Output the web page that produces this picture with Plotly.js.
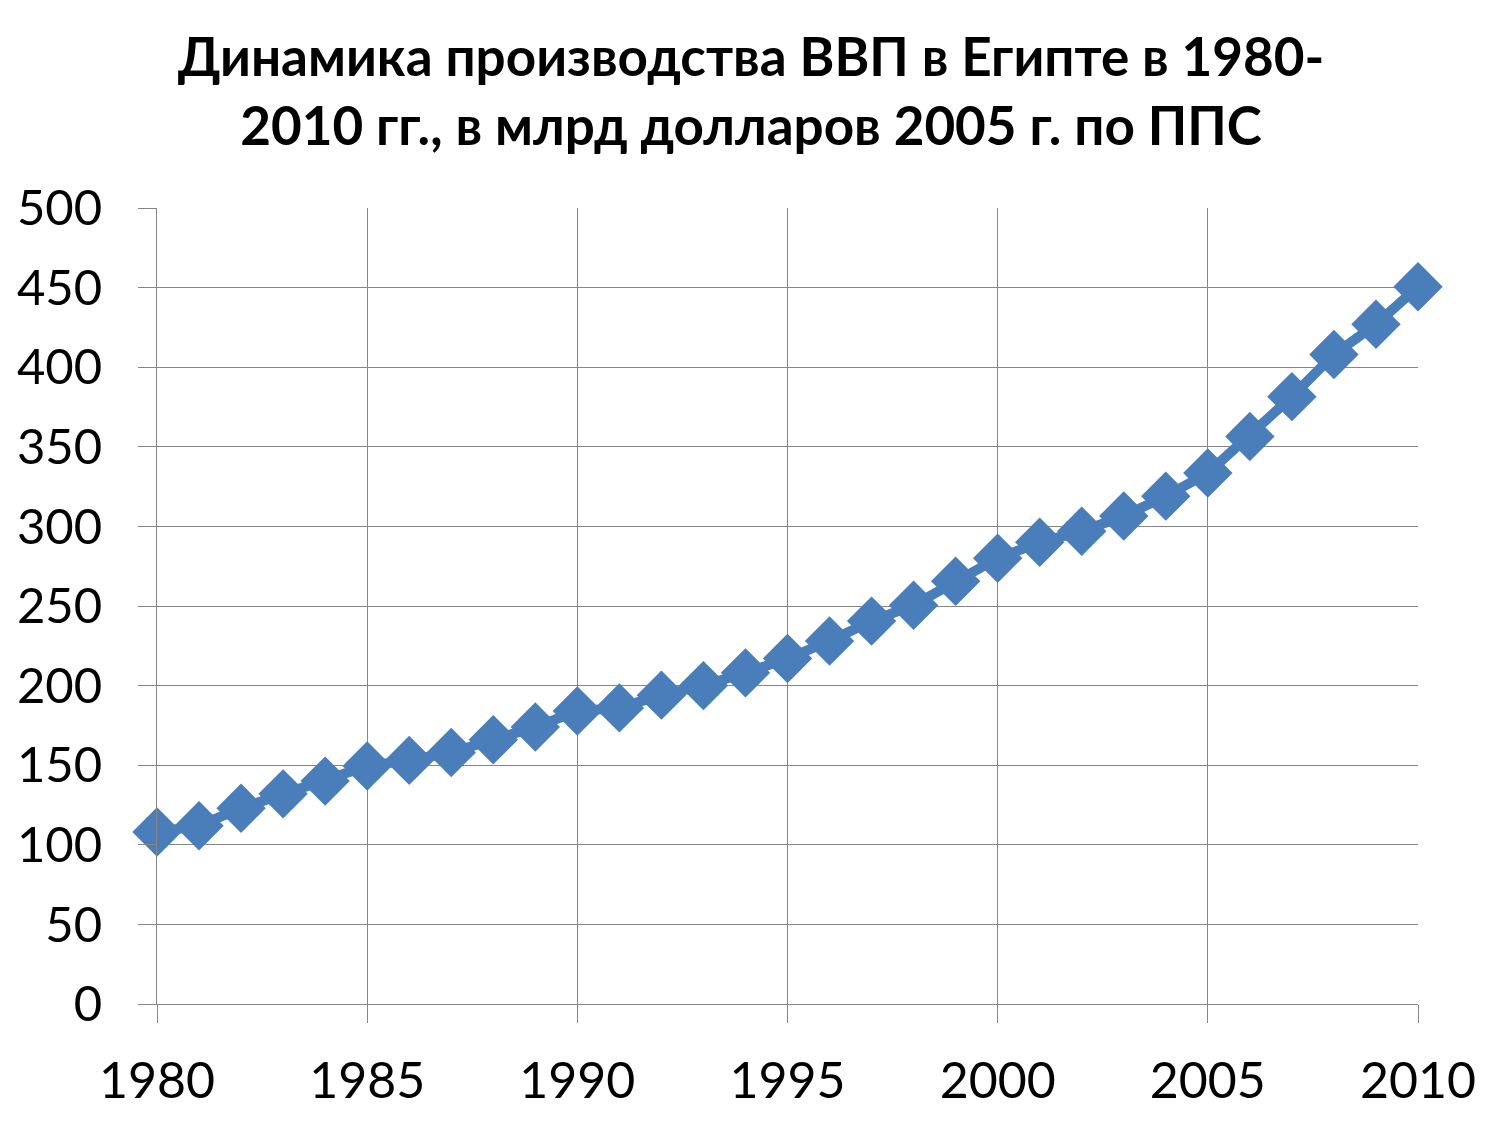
<!DOCTYPE html>
<html>
<head>
<meta charset="utf-8">
<script src="https://cdn.plot.ly/plotly-3.0.1.min.js"></script>
<style>html,body{margin:0;padding:0;background:#fff;}#chart{width:1502px;height:1127px;}</style>
</head>
<body>
<div id="chart"></div>
<script>
const years = [1980,1981,1982,1983,1984,1985,1986,1987,1988,1989,1990,1991,1992,1993,1994,1995,1996,1997,1998,1999,2000,2001,2002,2003,2004,2005,2006,2007,2008,2009,2010];
const gdp = [108,112,123,132,140,149.5,153,158,166,174,184,186,194,200,208,217,228,240.5,250.5,265.5,280,290,297,306.5,319,333.5,356.5,381.5,408,427,450.5];
const titleText = 'Динамика производства ВВП в Египте в 1980-<br>2010 гг., в млрд долларов 2005 г. по ППС';
const xTicks = [1980,1985,1990,1995,2000,2005,2010];
const yTicks = [0,50,100,150,200,250,300,350,400,450,500];

const trace = {
  x: years, y: gdp, type: 'scatter', mode: 'lines+markers',
  line: {color: '#4A7EBB', width: 10},
  marker: {symbol: 'diamond', size: 38, color: '#4A7EBB'},
  cliponaxis: false,
  hoverinfo: 'x+y'
};
const grid = '#868686';
const layout = {
  width: 1502, height: 1127,
  paper_bgcolor: '#ffffff', plot_bgcolor: '#ffffff',
  margin: {l: 157, r: 84, t: 208, b: 123, pad: 0},
  showlegend: false,
  title: {
    text: titleText,
    font: {family: 'Lato, "Open Sans", sans-serif', size: 53, color: '#000000', weight: 'bold'},
    x: 0.5, xanchor: 'center', xref: 'container',
    y: 1 - 76/1127, yanchor: 'middle', yref: 'container'
  },
  xaxis: {
    type: 'linear', range: [1980, 2010],
    tickmode: 'array', tickvals: xTicks, ticktext: xTicks.map(String),
    ticks: 'outside', ticklen: 18, tickwidth: 1, tickcolor: grid,
    showgrid: true, gridcolor: grid, gridwidth: 1,
    showline: true, linecolor: grid, linewidth: 1,
    zeroline: false,
    tickfont: {family: 'Lato, sans-serif', size: 50, color: '#000000'},
    ticklabelstandoff: 15
  },
  yaxis: {
    range: [0, 500],
    tickmode: 'array', tickvals: yTicks, ticktext: yTicks.map(String),
    ticks: 'outside', ticklen: 18, tickwidth: 1, tickcolor: grid,
    showgrid: true, gridcolor: grid, gridwidth: 1,
    showline: true, linecolor: grid, linewidth: 1,
    zeroline: false,
    tickfont: {family: 'Lato, sans-serif', size: 49, color: '#000000'},
    ticklabelstandoff: 26
  }
};
Plotly.newPlot('chart', [trace], layout, {displayModeBar: false, staticPlot: true});
</script>
</body>
</html>
